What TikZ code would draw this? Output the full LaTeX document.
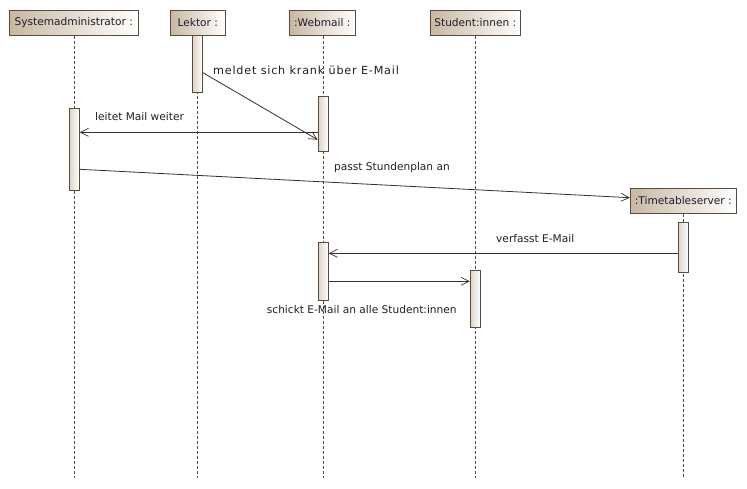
\documentclass[tikz,border=0pt]{standalone}
\usepackage{fontspec}
\setmainfont{DejaVu Sans}
\usetikzlibrary{arrows.meta,calc}
\definecolor{frame}{HTML}{5B4B3C}
\definecolor{wire}{HTML}{3A2F26}
\definecolor{tan}{HTML}{C8B8A3}
\definecolor{tanlight}{HTML}{DDD4C9}
\definecolor{txt}{HTML}{1E1E2A}
\tikzset{
  head/.style={draw=frame, line width=0.9pt, left color=tan, right color=white,
    minimum height=24.5pt, inner sep=0pt, text=txt, font=\fontsize{10.6}{12}\selectfont},
  actbar/.style={draw=frame, line width=0.9pt, left color=tanlight, right color=white,
    minimum width=10pt, inner sep=0pt},
  lifeline/.style={draw=frame, line width=0.8pt, dash pattern=on 3pt off 2pt},
  msg/.style={draw=wire, line width=0.8pt, -{Straight Barb[length=8pt,width=8pt,line width=0.7pt]}},
  lbl/.style={text=txt, inner sep=0pt, anchor=west, font=\fontsize{10.6}{12}\selectfont}
}
\begin{document}
\begin{tikzpicture}[x=1pt,y=-1pt]
\useasboundingbox[fill=white] (0,0) rectangle (747,488);
% heads
\node[head, minimum width=128.7pt] (sa) at (73.8,22.8) {Systemadministrator :};
\node[head, minimum width=54.3pt] (lk) at (197.8,22.8) {Lektor :};
\node[head, minimum width=66pt] (wm) at (322.3,22.8) {:Webmail :};
\node[head, minimum width=90pt] (st) at (475.3,22.8) {Student:innen :};
\node[head, minimum width=106pt, minimum height=25pt] (tt) at (683.3,200.8) {:Timetableserver :};
% lifeline ends
\coordinate (sa-end) at (74.3,477.5);
\coordinate (lk-end) at (197.6,477.5);
\coordinate (wm-end) at (323.3,477.5);
\coordinate (st-end) at (475.3,477.5);
\coordinate (tt-end) at (683.3,476.5);
\draw[lifeline] (sa.south -| sa-end) -- (sa-end);
\draw[lifeline] (lk.south -| lk-end) -- (lk-end);
\draw[lifeline] (wm.south -| wm-end) -- (wm-end);
\draw[lifeline] (st.south -| st-end) -- (st-end);
\draw[lifeline] (tt.south -| tt-end) -- (tt-end);
% activation bars
\node[actbar, minimum height=57pt] (lk1) at (197.5,63.5) {};
\node[actbar, minimum height=81.7pt] (sa1) at (74.3,149.2) {};
\node[actbar, minimum height=54.6pt] (wm1) at (323.1,124) {};
\node[actbar, minimum height=58pt] (wm2) at (323.3,271.3) {};
\node[actbar, minimum height=57pt] (st1) at (475.3,298.8) {};
\node[actbar, minimum height=50pt] (tt1) at (683.3,247.3) {};
% messages
\coordinate (m1s) at ([yshift=-9.2pt]lk1.east);
\coordinate (m1e) at ([yshift=-15.7pt]wm1.west);
\draw[msg] (m1s) -- (m1e);
\node[lbl, font=\fontsize{11.2}{12}\selectfont\addfontfeature{LetterSpace=7}] (l1) at (213,70) {meldet sich krank über E-Mail};

\coordinate (m2s) at ([yshift=-8.3pt]wm1.west);
\draw[msg] (m2s) -- (m2s -| sa1.east);
\node[lbl] (l2) at (95,116.7) {leitet Mail weiter};

\coordinate (m3s) at ([yshift=-20.1pt]sa1.east);
\coordinate (m3e) at ([yshift=3.1pt]tt.west);
\draw[msg] (m3s) -- (m3e);
\node[lbl] (l3) at (334,167.7) {passt Stundenplan an};

\coordinate (m4s) at ([yshift=-6pt]tt1.west);
\draw[msg] (m4s) -- (m4s -| wm2.east);
\node[lbl] (l4) at (496,239) {verfasst E-Mail};

\coordinate (m5s) at ([yshift=-10pt]wm2.east);
\draw[msg] (m5s) -- (m5s -| st1.west);
\node[lbl] (l5) at (266.7,310) {schickt E-Mail an alle Student:innen};
\end{tikzpicture}
\end{document}
